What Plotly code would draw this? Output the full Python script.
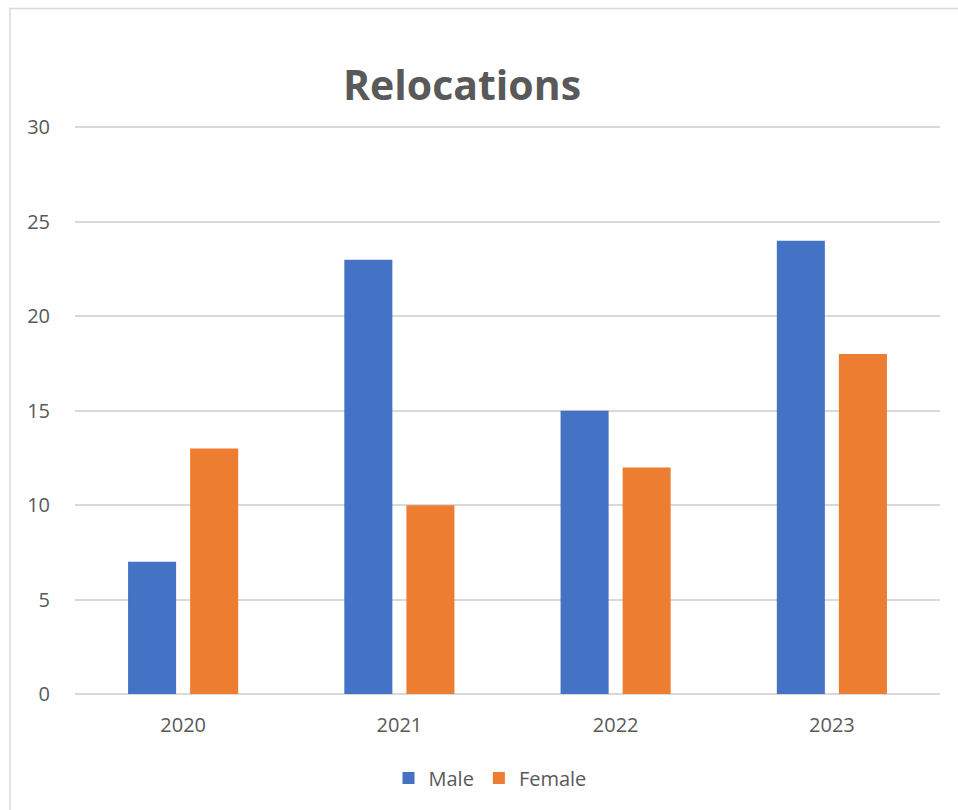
import plotly.graph_objects as go

years = ["2020", "2021", "2022", "2023"]
male = [7, 23, 15, 24]
female = [13, 10, 12, 18]

FONT = "Open Sans"
GREY = "#595959"
Y_TOP = 30.5  # a little headroom so the 30 gridline is drawn

fig = go.Figure()
fig.add_bar(name="Male", x=years, y=male, marker_color="#4472C4", marker_line_width=0)
fig.add_bar(name="Female", x=years, y=female, marker_color="#ED7D31", marker_line_width=0)

W, H = 958, 810
L, R, B = 75, 18, 116
zero_px, thirty_px = 694, 127
T = thirty_px - (Y_TOP - 30) * (zero_px - thirty_px) / 30
pw, ph = W - L - R, H - T - B

def px(xp):
    return (xp - L) / pw

def py(yp):
    return (H - B - yp) / ph

fig.update_layout(
    width=W, height=H,
    margin=dict(l=L, r=R, t=T, b=B),
    paper_bgcolor="white", plot_bgcolor="white",
    barmode="group", bargap=0.426, bargroupgap=0.226,
    title=dict(text="<b>Relocations</b>", x=462 / W, xanchor="center",
               y=1 - 86 / H, yanchor="middle",
               font=dict(family=FONT, size=41, color=GREY)),
    font=dict(family=FONT, color=GREY, size=20),
    showlegend=True,
    legend=dict(orientation="h", x=px(490), xanchor="center", y=py(778), yanchor="middle",
                font=dict(size=20, color=GREY), itemwidth=30, traceorder="normal"),
    xaxis=dict(showgrid=False, showline=False, ticks="", ticklabelstandoff=17,
               tickfont=dict(size=20, color=GREY)),
    yaxis=dict(range=[0, Y_TOP], tickvals=[0, 5, 10, 15, 20, 25, 30],
               showgrid=True, gridcolor="#d9d9d9", gridwidth=1.5,
               zeroline=True, zerolinecolor="#d9d9d9", zerolinewidth=1.5,
               showline=False, ticks="", ticklabelstandoff=24,
               tickfont=dict(size=20, color=GREY)),
    shapes=[dict(type="rect", xref="paper", yref="paper",
                 x0=px(10), x1=px(1000), y0=py(830), y1=py(8),
                 line=dict(color="#d9d9d9", width=1.5), layer="below")],
)

fig.write_html("out.html")
